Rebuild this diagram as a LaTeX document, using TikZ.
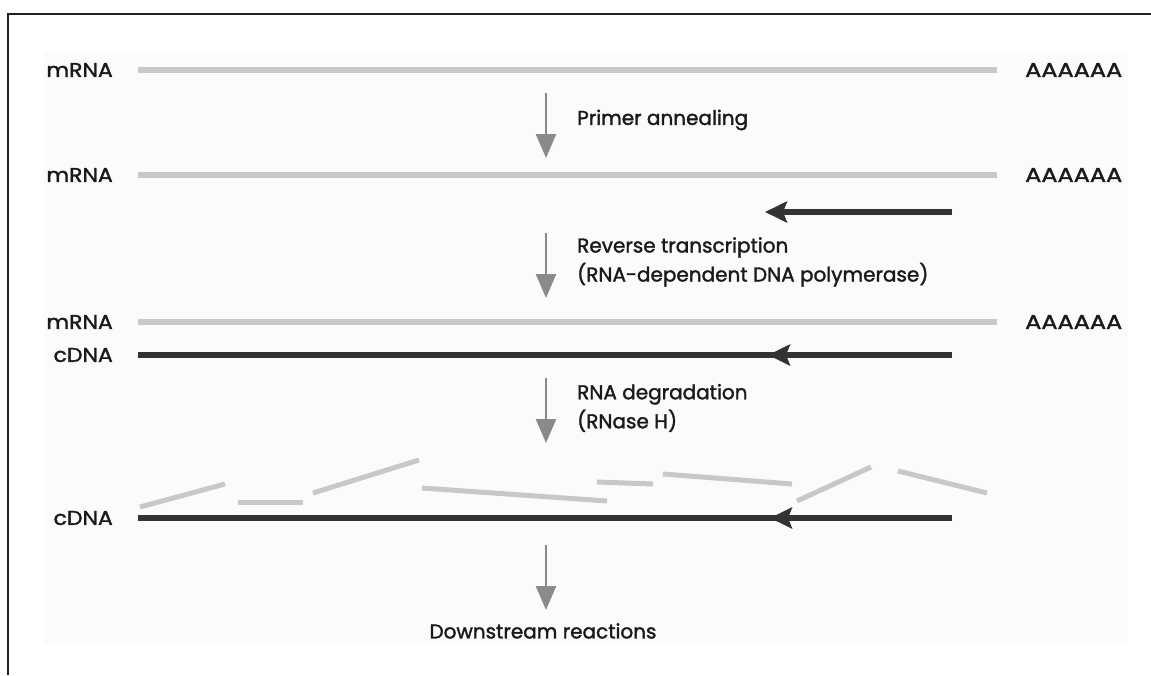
\documentclass[tikz,border=0pt]{standalone}
\usepackage{fontspec}
\setmainfont{Poppins}[FakeBold=1.6]
\usetikzlibrary{arrows.meta}
\definecolor{framec}{HTML}{222222}
\definecolor{bgc}{HTML}{FBFBFB}
\definecolor{rnac}{HTML}{C8C8C8}
\definecolor{dnac}{HTML}{333333}
\definecolor{stepc}{HTML}{8A8A8A}
\definecolor{txtc}{HTML}{1A1A1A}
\newcommand{\polyA}{\scalebox{1.2}[1]{AAAAAA}}
\newcommand{\wlab}[1]{\scalebox{1.1}[1]{#1}}
\tikzset{
  basefont/.style={font=\fontsize{20}{29}\selectfont},
  lbl/.style={anchor=east, inner sep=0pt, text=txtc, basefont},
  tail/.style={anchor=west, inner sep=0pt, text=txtc, basefont},
  note/.style={anchor=west, inner sep=0pt, text=txtc, align=left, basefont},
  rna/.style={draw=rnac, line width=6pt},
  frag/.style={draw=rnac, line width=5pt},
  dna/.style={draw=dnac, line width=6pt},
  dnatip/.style={draw=dnac, line width=6pt, -{Stealth[length=22pt,width=21pt,inset=4pt]}},
  stepdown/.style={draw=stepc, line width=2.5pt, -{Triangle[length=24pt,width=20pt]}},
}
\begin{document}
\begin{tikzpicture}[x=1pt,y=-1pt]
\useasboundingbox (0,0) rectangle (1151,675);
\fill[bgc] (44,53) rectangle (1128,644);
\draw[framec, line width=2pt] (7,14) -- (1151,14);
\draw[framec, line width=2pt] (8,13) -- (8,675);

% row 1
\node[lbl] (m1) at (113,70) {\wlab{mRNA}};
\node[tail] (a1) at (1025,70) {\polyA};
\coordinate (r1s) at (138,70); \coordinate (r1e) at (997,70);
\draw[rna] (r1s) -- (r1e);

\coordinate (s1a) at (546,93); \coordinate (s1b) at (546,158);
\draw[stepdown] (s1a) -- (s1b);
\node[note] (t1) at (577,120) {Primer annealing};

% row 2
\node[lbl] (m2) at (113,175) {\wlab{mRNA}};
\node[tail] (a2) at (1025,175) {\polyA};
\coordinate (r2s) at (138,175); \coordinate (r2e) at (997,175);
\draw[rna] (r2s) -- (r2e);
\coordinate (p1s) at (952,212); \coordinate (p1e) at (765,212);
\draw[dnatip] (p1s) -- (p1e);

\coordinate (s2a) at (546,233); \coordinate (s2b) at (546,298);
\draw[stepdown] (s2a) -- (s2b);
\node[note] (t2) at (577,262) {Reverse transcription\\(RNA-dependent DNA polymerase)};

% row 3
\node[lbl] (m3) at (113,322) {\wlab{mRNA}};
\node[tail] (a3) at (1025,322) {\polyA};
\coordinate (r3s) at (138,322); \coordinate (r3e) at (997,322);
\draw[rna] (r3s) -- (r3e);
\node[lbl] (c3) at (113,355) {\wlab{cDNA}};
\coordinate (d3s) at (952,355); \coordinate (d3m) at (768,355); \coordinate (d3e) at (138,355);
\draw[dna] (d3s) -- (d3e);
\draw[dnatip] (d3s) -- (d3m);

\coordinate (s3a) at (546,378); \coordinate (s3b) at (546,443);
\draw[stepdown] (s3a) -- (s3b);
\node[note] (t3) at (577,408) {RNA degradation\\(RNase H)};

% row 4 fragments
\draw[frag] (140,507) -- (225,484);
\draw[frag] (238,502) -- (303,502);
\draw[frag] (313,493) -- (419,460);
\draw[frag] (422,488) -- (607,501);
\draw[frag] (597,482) -- (653,484);
\draw[frag] (663,474) -- (792,484);
\draw[frag] (797,501) -- (871,467);
\draw[frag] (898,471) -- (987,493);

\node[lbl] (c4) at (113,518) {\wlab{cDNA}};
\coordinate (d4s) at (952,518); \coordinate (d4m) at (770,518); \coordinate (d4e) at (138,518);
\draw[dna] (d4s) -- (d4e);
\draw[dnatip] (d4s) -- (d4m);

\coordinate (s4a) at (546,545); \coordinate (s4b) at (546,610);
\draw[stepdown] (s4a) -- (s4b);
\node[anchor=north, inner sep=0pt, text=txtc, basefont] (t4) at (543,623) {Downstream reactions};
\end{tikzpicture}
\end{document}
